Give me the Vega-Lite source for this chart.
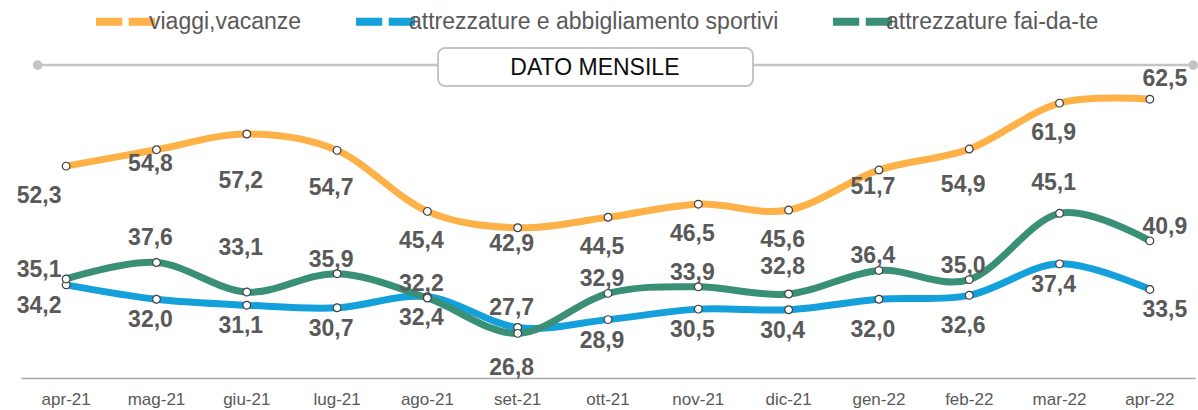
{
  "$schema": "https://vega.github.io/schema/vega-lite/v6.json",
  "width": 1174,
  "height": 328,
  "autosize": "none",
  "padding": {"left": 21, "top": 50, "right": 3, "bottom": 32},
  "background": "white",
  "config": {"view": {"stroke": null}, "font": "Liberation Sans"},
  "data": {
    "values": [
      {"mese": "apr-21", "serie": "viaggi,vacanze", "valore": 52.3},
      {"mese": "mag-21", "serie": "viaggi,vacanze", "valore": 54.8},
      {"mese": "giu-21", "serie": "viaggi,vacanze", "valore": 57.2},
      {"mese": "lug-21", "serie": "viaggi,vacanze", "valore": 54.7},
      {"mese": "ago-21", "serie": "viaggi,vacanze", "valore": 45.4},
      {"mese": "set-21", "serie": "viaggi,vacanze", "valore": 42.9},
      {"mese": "ott-21", "serie": "viaggi,vacanze", "valore": 44.5},
      {"mese": "nov-21", "serie": "viaggi,vacanze", "valore": 46.5},
      {"mese": "dic-21", "serie": "viaggi,vacanze", "valore": 45.6},
      {"mese": "gen-22", "serie": "viaggi,vacanze", "valore": 51.7},
      {"mese": "feb-22", "serie": "viaggi,vacanze", "valore": 54.9},
      {"mese": "mar-22", "serie": "viaggi,vacanze", "valore": 61.9},
      {"mese": "apr-22", "serie": "viaggi,vacanze", "valore": 62.5},
      {"mese": "apr-21", "serie": "attrezzature e abbigliamento sportivi", "valore": 34.2},
      {"mese": "mag-21", "serie": "attrezzature e abbigliamento sportivi", "valore": 32.0},
      {"mese": "giu-21", "serie": "attrezzature e abbigliamento sportivi", "valore": 31.1},
      {"mese": "lug-21", "serie": "attrezzature e abbigliamento sportivi", "valore": 30.7},
      {"mese": "ago-21", "serie": "attrezzature e abbigliamento sportivi", "valore": 32.4},
      {"mese": "set-21", "serie": "attrezzature e abbigliamento sportivi", "valore": 27.7},
      {"mese": "ott-21", "serie": "attrezzature e abbigliamento sportivi", "valore": 28.9},
      {"mese": "nov-21", "serie": "attrezzature e abbigliamento sportivi", "valore": 30.5},
      {"mese": "dic-21", "serie": "attrezzature e abbigliamento sportivi", "valore": 30.4},
      {"mese": "gen-22", "serie": "attrezzature e abbigliamento sportivi", "valore": 32.0},
      {"mese": "feb-22", "serie": "attrezzature e abbigliamento sportivi", "valore": 32.6},
      {"mese": "mar-22", "serie": "attrezzature e abbigliamento sportivi", "valore": 37.4},
      {"mese": "apr-22", "serie": "attrezzature e abbigliamento sportivi", "valore": 33.5},
      {"mese": "apr-21", "serie": "attrezzature fai-da-te", "valore": 35.1},
      {"mese": "mag-21", "serie": "attrezzature fai-da-te", "valore": 37.6},
      {"mese": "giu-21", "serie": "attrezzature fai-da-te", "valore": 33.1},
      {"mese": "lug-21", "serie": "attrezzature fai-da-te", "valore": 35.9},
      {"mese": "ago-21", "serie": "attrezzature fai-da-te", "valore": 32.2},
      {"mese": "set-21", "serie": "attrezzature fai-da-te", "valore": 26.8},
      {"mese": "ott-21", "serie": "attrezzature fai-da-te", "valore": 32.9},
      {"mese": "nov-21", "serie": "attrezzature fai-da-te", "valore": 33.9},
      {"mese": "dic-21", "serie": "attrezzature fai-da-te", "valore": 32.8},
      {"mese": "gen-22", "serie": "attrezzature fai-da-te", "valore": 36.4},
      {"mese": "feb-22", "serie": "attrezzature fai-da-te", "valore": 35.0},
      {"mese": "mar-22", "serie": "attrezzature fai-da-te", "valore": 45.1},
      {"mese": "apr-22", "serie": "attrezzature fai-da-te", "valore": 40.9}
    ]
  },
  "layer": [
    {
      "data": {"values": [{"etichetta": "DATO MENSILE"}]},
      "layer": [
        {
          "mark": {"type": "rule", "color": "#C4C4C4", "strokeWidth": 2.5},
          "encoding": {
            "x": {"datum": 0.185, "type": "quantitative", "scale": {"domain": [0, 13], "nice": false, "zero": false}, "axis": null},
            "x2": {"datum": 12.98},
            "y": {"datum": 67.7, "type": "quantitative"}
          }
        },
        {
          "mark": {"type": "point", "filled": true, "color": "#C4C4C4", "size": 95, "opacity": 1},
          "encoding": {
            "x": {"datum": 0.185, "type": "quantitative"},
            "y": {"datum": 67.7, "type": "quantitative"}
          }
        },
        {
          "mark": {"type": "point", "filled": true, "color": "#C4C4C4", "size": 95, "opacity": 1},
          "encoding": {
            "x": {"datum": 12.98, "type": "quantitative"},
            "y": {"datum": 67.7, "type": "quantitative"}
          }
        },
        {
          "mark": {"type": "rect", "fill": "white", "stroke": "#C4C4C4", "strokeWidth": 2, "cornerRadius": 7},
          "encoding": {
            "x": {"datum": 4.618, "type": "quantitative"},
            "x2": {"datum": 8.106},
            "y": {"datum": 64.5, "type": "quantitative"},
            "y2": {"datum": 70.3}
          }
        },
        {
          "mark": {"type": "text", "font": "Liberation Sans", "fontSize": 23, "color": "#0D0D0D", "baseline": "middle", "align": "center"},
          "encoding": {
            "x": {"datum": 6.355, "type": "quantitative"},
            "y": {"datum": 67.3, "type": "quantitative"},
            "text": {"field": "etichetta", "type": "nominal"}
          }
        }
      ]
    },
    {
      "layer": [
        {
          "mark": {"type": "line", "interpolate": "cardinal", "strokeWidth": 7, "strokeCap": "round"},
          "encoding": {
            "x": {
              "field": "mese", "type": "ordinal",
              "scale": {"type": "band", "paddingInner": 0, "paddingOuter": 0,
                "domain": ["apr-21", "mag-21", "giu-21", "lug-21", "ago-21", "set-21", "ott-21", "nov-21", "dic-21", "gen-22", "feb-22", "mar-22", "apr-22"]},
              "axis": {"orient": "bottom", "title": null, "labelAngle": 0, "labelFontSize": 17, "labelColor": "#595959", "labelFont": "Liberation Sans", "ticks": false, "grid": false, "domainColor": "#A6A6A6", "domainWidth": 1.5, "labelPadding": 13}
            },
            "y": {"field": "valore", "type": "quantitative", "scale": {"domain": [20, 70], "nice": false, "zero": false}, "axis": null},
            "color": {
              "field": "serie", "type": "nominal",
              "scale": {"domain": ["viaggi,vacanze", "attrezzature e abbigliamento sportivi", "attrezzature fai-da-te"], "range": ["#FDB147", "#14A0DB", "#3A9077"]},
              "legend": {
                "title": null, "orient": "none", "legendX": 71, "legendY": -62, "direction": "horizontal",
                "symbolType": "M-1,0 L-0.11,0 M0.11,0 L1,0",
                "symbolSize": 3481, "symbolStrokeWidth": 8,
                "labelFontSize": 23, "labelColor": "#595959", "labelFont": "Liberation Sans", "labelOffset": -10,
                "columnPadding": 38, "labelLimit": 800
              }
            }
          }
        },
        {
          "mark": {"type": "point", "filled": true, "fill": "white", "stroke": "#3F3F3F", "strokeWidth": 1.2, "size": 60, "opacity": 1},
          "encoding": {
            "x": {"field": "mese", "type": "ordinal"},
            "y": {"field": "valore", "type": "quantitative"}
          }
        },
        {
          "transform": [{"calculate": "replace(format(datum.valore, '.1f'), '.', ',')", "as": "testo"}],
          "mark": {
            "type": "text", "font": "Liberation Sans", "fontSize": 23, "fontWeight": "bold", "color": "#595959", "baseline": "middle", "align": "center",
            "dx": {"expr": "datum.mese == 'apr-21' ? -27 : datum.mese == 'apr-22' ? 15 : -6"},
            "dy": {"expr": "datum.serie == 'viaggi,vacanze' ? (datum.mese == 'apr-22' ? -20 : datum.mese == 'feb-22' ? 36 : datum.mese == 'gen-22' ? 17 : datum.mese == 'giu-21' ? 47 : datum.mese == 'lug-21' ? 38 : datum.mese == 'mag-21' ? 14 : datum.mese == 'set-21' ? 16 : 30) : datum.serie == 'attrezzature fai-da-te' ? (datum.mese == 'set-21' ? 35 : datum.mese == 'giu-21' ? -44 : datum.mese == 'mag-21' ? -25 : datum.mese == 'dic-21' ? -27 : datum.mese == 'mar-22' ? -30 : datum.mese == 'apr-21' ? -9 : -14) : (datum.mese == 'set-21' ? -19 : (datum.mese == 'gen-22' || datum.mese == 'feb-22') ? 31 : 21)"}
          },
          "encoding": {
            "x": {"field": "mese", "type": "ordinal"},
            "y": {"field": "valore", "type": "quantitative"},
            "text": {"field": "testo", "type": "nominal"}
          }
        }
      ]
    }
  ],
  "resolve": {"scale": {"x": "independent"}}
}
